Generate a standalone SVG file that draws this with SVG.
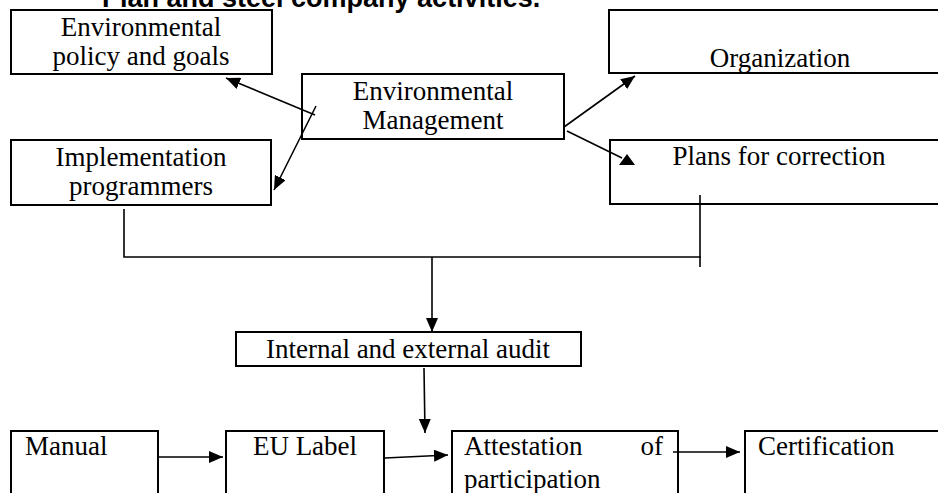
<svg xmlns="http://www.w3.org/2000/svg" width="938" height="493" viewBox="0 0 938 493">
<style>
  .box { fill: #fff; stroke: #000; stroke-width: 2; }
  .t { font-family: "Liberation Serif", "Times New Roman", serif; font-size: 27px; fill: #000; }
  .m { text-anchor: middle; }
  .title { font-family: "Liberation Sans", Arial, sans-serif; font-size: 27px; font-weight: bold; fill: #000; }
  .ln { fill: none; stroke: #000; stroke-width: 1.6; }
</style>
<defs>
  <marker id="ah" viewBox="0 0 14 12" refX="14" refY="6" markerWidth="14" markerHeight="12" markerUnits="userSpaceOnUse" orient="auto">
    <path d="M0,0 L14,6 L0,12 z" fill="#000"/>
  </marker>
</defs>
<rect width="938" height="493" fill="#fff"/>
<text class="title" x="102" y="7">Plan and steel company activities.</text>

<g id="n-policy">
  <rect class="box" x="11" y="10" width="261" height="64"/>
  <text class="t m" x="141" y="36">Environmental</text>
  <text class="t m" x="141" y="65">policy and goals</text>
</g>
<g id="n-organization">
  <rect class="box" x="609" y="10" width="345" height="63"/>
  <text class="t m" x="780" y="67">Organization</text>
</g>
<g id="n-management">
  <rect class="box" x="302" y="74" width="262" height="65"/>
  <text class="t m" x="433" y="100">Environmental</text>
  <text class="t m" x="433" y="129">Management</text>
</g>
<g id="n-implementation">
  <rect class="box" x="11" y="140" width="260" height="65"/>
  <text class="t m" x="141" y="166">Implementation</text>
  <text class="t m" x="141" y="195">programmers</text>
</g>
<g id="n-plans">
  <rect class="box" x="610" y="140" width="345" height="64"/>
  <text class="t m" x="779" y="165">Plans for correction</text>
</g>
<g id="n-audit">
  <rect class="box" x="236" y="332" width="345" height="34"/>
  <text class="t m" x="408" y="358">Internal and external audit</text>
</g>
<g id="n-manual">
  <rect class="box" x="11" y="431" width="147" height="80"/>
  <text class="t" x="25" y="455">Manual</text>
</g>
<g id="n-eulabel">
  <rect class="box" x="226" y="431" width="158" height="80"/>
  <text class="t m" x="305" y="455">EU Label</text>
</g>
<g id="n-attestation">
  <rect class="box" x="452" y="431" width="226" height="80"/>
  <text class="t" x="464" y="455">Attestation</text>
  <text class="t" x="663" y="455" text-anchor="end">of</text>
  <text class="t" x="464" y="488">participation</text>
</g>
<g id="n-certification">
  <rect class="box" x="745" y="431" width="210" height="80"/>
  <text class="t" x="758" y="455">Certification</text>
</g>

<g id="connectors">
  <line class="ln" x1="315" y1="115" x2="226" y2="78" marker-end="url(#ah)"/>
  <line class="ln" x1="316" y1="106" x2="274" y2="190" marker-end="url(#ah)"/>
  <line class="ln" x1="564" y1="127" x2="635" y2="76" marker-end="url(#ah)"/>
  <line class="ln" x1="567" y1="131" x2="622" y2="158"/>
  <polygon points="627,154 619,165 635,165" fill="#000"/>
  <polyline class="ln" points="124,209 124,257 701,257"/>
  <line class="ln" x1="700" y1="195" x2="700" y2="267"/>
  <line class="ln" x1="432" y1="257" x2="432" y2="332" marker-end="url(#ah)"/>
  <line class="ln" x1="424" y1="368" x2="425" y2="433" marker-end="url(#ah)"/>
  <line class="ln" x1="158" y1="457" x2="223" y2="457" marker-end="url(#ah)"/>
  <line class="ln" x1="385" y1="458" x2="448" y2="455" marker-end="url(#ah)"/>
  <line class="ln" x1="673" y1="452" x2="740" y2="452" marker-end="url(#ah)"/>
</g>
</svg>
